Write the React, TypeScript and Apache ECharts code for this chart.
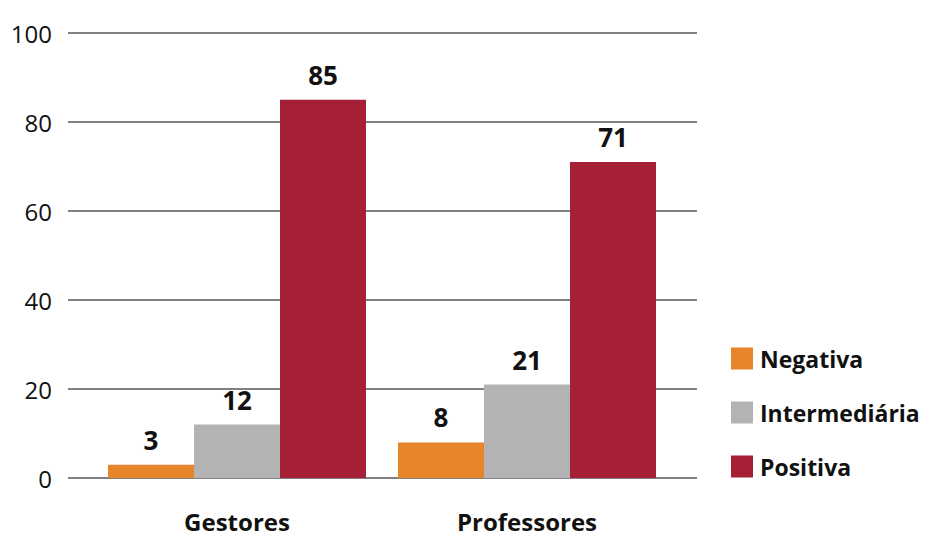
import React, { useEffect, useRef } from "react";
import * as echarts from "echarts";

const categories = ["Gestores", "Professores"];
const seriesNames = ["Negativa", "Intermediária", "Positiva"];
const negativa = [3, 8];
const intermediaria = [12, 21];
const positiva = [85, 71];
const colors = ["#E8842A", "#B3B3B3", "#A51F36"];

const FONT = "Open Sans";

export default function App() {
  const ref = useRef<HTMLDivElement>(null);
  useEffect(() => {
    if (!ref.current) return;
    const chart = echarts.init(ref.current, undefined, { renderer: "svg" });
    const values = [negativa, intermediaria, positiva];
    const label = {
      show: true,
      position: "top",
      distance: 12,
      fontFamily: FONT,
      fontWeight: "bold",
      fontSize: 26,
      color: "#111",
    };
    chart.setOption({
      animation: false,
      textStyle: { fontFamily: FONT },
      grid: [
        { left: 68, right: 235, top: 33, bottom: 59 },
        { left: 92, right: 260, top: 33, bottom: 59 },
      ],
      legend: {
        orient: "vertical",
        left: 731,
        top: 347,
        padding: 0,
        itemWidth: 22,
        itemHeight: 22,
        itemGap: 31,
        icon: "rect",
        data: seriesNames,
        textStyle: { fontFamily: FONT, fontWeight: "bold", fontSize: 23, lineHeight: 22, color: "#111", padding: [0, 0, 0, 2] },
      },
      xAxis: [
        { gridIndex: 0, type: "category", data: categories, show: false },
        {
          gridIndex: 1,
          type: "category",
          data: categories,
          axisLine: { show: false },
          axisTick: { show: false },
          axisLabel: { margin: 32, lineHeight: 22, fontFamily: FONT, fontWeight: "bold", fontSize: 24, color: "#111" },
        },
      ],
      yAxis: [
        {
          gridIndex: 0,
          type: "value",
          min: 0,
          max: 100,
          interval: 20,
          axisLine: { show: false },
          axisTick: { show: false },
          axisLabel: { margin: 16, fontFamily: FONT, fontSize: 24, color: "#111" },
          splitLine: { lineStyle: { color: "#808080", width: 2 } },
        },
        { gridIndex: 1, type: "value", min: 0, max: 100, interval: 20, show: false, splitLine: { show: false } },
      ],
      series: seriesNames.map((name, i) => ({
        name,
        type: "bar",
        xAxisIndex: 1,
        yAxisIndex: 1,
        data: values[i],
        barWidth: 86,
        barGap: "0%",
        itemStyle: { color: colors[i] },
        label,
      })),
    });
    return () => chart.dispose();
  }, []);
  return <div ref={ref} style={{ width: 932, height: 537, position: "absolute", left: 0, top: 0 }} />;
}
